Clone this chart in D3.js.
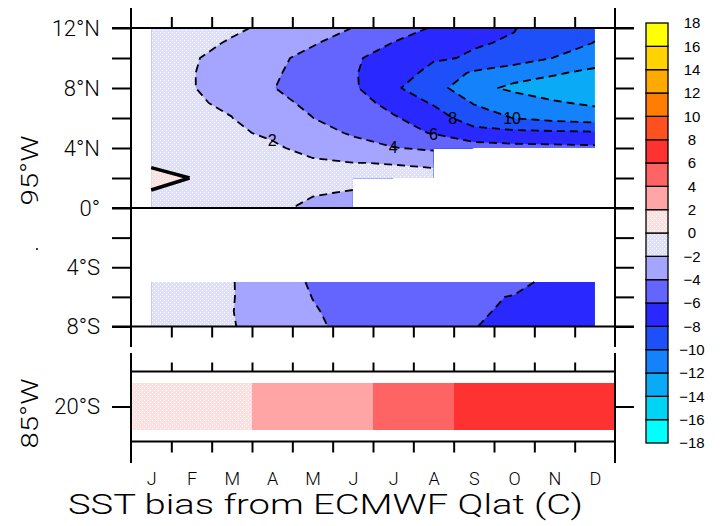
<!DOCTYPE html>
<html>
<head>
<meta charset="utf-8">
<script src="https://cdn.jsdelivr.net/npm/d3@7"></script>
<style>
  body { margin: 0; background: #fff; }
  svg { display: block; }
  text { font-family: "Liberation Sans", Arial, sans-serif; fill: #000; }
  .thin, .thin text { font-family: Roboto, "Liberation Sans", sans-serif; font-weight: 300; }
</style>
</head>
<body>
<svg id="chart" width="720" height="526"></svg>
<script>
// ---- data -------------------------------------------------------------
const months = ["J", "F", "M", "A", "M", "J", "J", "A", "S", "O", "N", "D"];

// 95W, 0-12N: one row per latitude (southernmost first), one value per month; null = no data
const northLats = [0, 1, 2, 3, 4, 5, 6, 7, 8, 9, 10, 11, 12];
const northBias = [
  [-0.5, -0.8, -1.2, -1.7, -2.3, -2.6, null, null, null, null, null, null],
  [-0.25, -0.6, -1.0, -1.5, -1.9, -2.1, null, null, null, null, null, null],
  [1.0, -0.05, -0.6, -1.1, -1.4, -1.6, -1.6, -1.7, null, null, null, null],
  [-0.45, -1.0, -1.3, -1.6, -1.8, -1.97, -2.05, -2.15, null, null, null, null],
  [-0.7, -1.2, -1.6, -1.8, -2.4, -3.3, -3.9, -4.4, -5.2, -5.4, -5.5, -5.6],
  [-0.9, -1.4, -1.8, -2.2, -3.3, -4.2, -5.4, -6.1, -7.2, -7.5, -7.6, -7.7],
  [-1.1, -1.6, -1.98, -2.9, -3.98, -5.0, -5.8, -7.0, -9.1, -10.05, -10.6, -11.0],
  [-1.3, -1.85, -2.2, -3.6, -4.3, -5.2, -6.6, -8.2, -10.1, -11.0, -11.8, -12.3],
  [-1.5, -1.94, -2.5, -3.95, -4.6, -5.7, -7.7, -9.2, -11.4, -12.4, -13.0, -13.5],
  [-1.5, -1.93, -2.6, -3.8, -4.6, -5.85, -7.0, -8.6, -10.3, -11.2, -11.8, -12.5],
  [-1.4, -1.92, -2.3, -3.6, -4.5, -5.7, -6.9, -7.8, -8.15, -9.0, -10.05, -11.0],
  [-1.2, -1.85, -2.05, -3.0, -3.85, -4.8, -6.05, -7.0, -7.9, -8.12, -9.2, -10.05],
  [-1.0, -1.5, -1.92, -2.1, -3.4, -4.02, -5.1, -6.15, -7.1, -7.95, -8.7, -9.6]
];

// 95W, 8S-5S
const southLats = [-8, -7, -6, -5];
const southBias = [
  [-1.0, -1.5, -1.95, -2.4, -3.7, -4.5, -5.0, -5.4, -5.95, -6.45, -6.9, -7.3],
  [-1.0, -1.5, -1.95, -3.0, -3.9, -4.4, -4.9, -5.4, -5.8, -6.25, -6.7, -7.0],
  [-1.0, -1.5, -1.9, -3.2, -4.02, -4.7, -5.1, -5.5, -5.9, -6.03, -6.5, -6.8],
  [-1.0, -1.5, -1.9, -3.3, -4.15, -4.6, -5.0, -5.3, -5.5, -5.8, -6.2, -6.5]
];

// 85W, 20S
const bias20S = [1.3, 1.5, 1.8, 2.5, 3.0, 3.6, 4.5, 5.3, 6.4, 6.9, 7.2, 7.0];

// shading levels and their colours (lowest band first)
const levels = d3.range(-18, 19, 2);
const bandColors = [
  "#00ffff", "#00d4f4", "#0aaaf6", "#1482fa", "#1e50fa", "#2828ff",
  "#6464ff", "#a5a5ff", "#e1e1ff", "#ffe1e1", "#ffa5a5", "#ff6464",
  "#ff3232", "#ff5020", "#ff7d00", "#ffaa00", "#ffd200", "#ffff00"
];
const dottedBands = { 8: "#dedeff", 9: "#ffdede" };

const northTickLats = [0, 2, 4, 6, 8, 10, 12];
const southTickLats = [-8, -6, -4, -2];
const contourLabels = [
  { level: -2, month: 2.8 },
  { level: -4, month: 5.6 },
  { level: -6, month: 7.35 },
  { level: -8, month: 7.5 },
  { level: -10, month: 8.5 }
];

// ---- scales -----------------------------------------------------------
const svg = d3.select("#chart");
const defs = svg.append("defs");

const xMonth = d3.scaleLinear().domain([0, 12]).range([131, 615]);
const yNorth = d3.scaleLinear().domain([0, 12]).range([208, 28]);
const ySouth = d3.scaleLinear().domain([-8, 0]).range([326.5, 208]);
const yBand = d3.scaleLinear().domain([-21.5, -18.5]).range([441.5, 371.5]);
const legendY = d3.scaleLinear().domain([18, -18]).range([23, 443]);

// dithered light fills
Object.entries(dottedBands).forEach(([k, base]) => {
  const p = defs.append("pattern").attr("id", "dot" + k)
    .attr("width", 4).attr("height", 4).attr("patternUnits", "userSpaceOnUse");
  p.append("rect").attr("width", 4).attr("height", 4).attr("fill", base);
  p.append("rect").attr("x", 0).attr("y", 0).attr("width", 1).attr("height", 1).attr("fill", "#fff");
  p.append("rect").attr("x", 2).attr("y", 2).attr("width", 1).attr("height", 1).attr("fill", "#fff");
});
const bandFill = k => dottedBands[k] ? `url(#dot${k})` : bandColors[k];
const bandIndex = v => Math.max(0, Math.min(bandColors.length - 1, Math.floor((v - levels[0]) / 2)));

// ---- contour field ----------------------------------------------------
const linePoints = {};

function drawField(grid, lats, yScale, id, keepPoints) {
  const ny = grid.length, nx = grid[0].length;
  const flat = grid.flat().map(v => v == null ? NaN : +v);
  const val = (i, j) => (i < 0 || j < 0 || i >= nx || j >= ny) ? NaN : flat[j * nx + i];
  const X = s => xMonth(s + 0.5);
  const Y = r => {
    const j = Math.max(0, Math.min(Math.floor(r), ny - 2));
    return yScale(lats[j] + (r - j) * (lats[j + 1] - lats[j]));
  };

  // shade only grid boxes whose four corners hold data
  const clip = defs.append("clipPath").attr("id", id);
  for (let j = 0; j < ny - 1; j++) {
    let start = null;
    for (let i = 0; i <= nx - 1; i++) {
      const ok = i < nx - 1 && [val(i, j), val(i + 1, j), val(i, j + 1), val(i + 1, j + 1)].every(isFinite);
      if (ok && start === null) start = i;
      if (!ok && start !== null) {
        clip.append("rect")
          .attr("x", X(start)).attr("width", X(i) - X(start))
          .attr("y", yScale(lats[j + 1]) - 0.5)
          .attr("height", yScale(lats[j]) - yScale(lats[j + 1]) + 1);
        start = null;
      }
    }
  }

  const gen = d3.contours().size([nx, ny]).smooth(false);
  const fillG = svg.append("g").attr("clip-path", `url(#${id})`);
  const lines = [];

  levels.slice(0, -1).forEach((t, k) => {
    const mp = gen.thresholds([t])(flat)[0];
    if (!mp.coordinates.length) return;
    const polys = mp.coordinates.map(poly => poly.map(ring => ring.map(([px, py]) => {
      let s, r, ok;
      if (Number.isInteger(px)) {
        const j = py - 0.5, a = val(px - 1, j), b = val(px, j);
        r = j;
        if (isFinite(a) && isFinite(b)) { s = px - 1 + (t - a) / (b - a); ok = true; }
        else { s = isFinite(a) ? px - 1 : px; ok = false; }
      } else {
        const i = px - 0.5, a = val(i, py - 1), b = val(i, py);
        s = i;
        if (isFinite(a) && isFinite(b)) { r = py - 1 + (t - a) / (b - a); ok = true; }
        else { r = isFinite(a) ? py - 1 : py; ok = false; }
      }
      return { x: X(s), y: Y(r), ok };
    })));

    const d = polys.map(poly => poly.map(ring =>
      "M" + ring.map(p => p.x + "," + p.y).join("L") + "Z").join("")).join("");
    fillG.append("path").attr("d", d).attr("fill", bandFill(k)).attr("fill-rule", "evenodd");

    // contour lines: only where the level really crosses between two data points
    let path = "";
    const pts = [];
    polys.forEach(poly => poly.forEach(ring => {
      let run = [];
      const flush = () => { if (run.length > 1) path += "M" + run.map(p => p.x + "," + p.y).join("L"); run = []; };
      for (let n = 0; n < ring.length; n++) {
        const p = ring[n];
        if (p.ok) { run.push(p); pts.push(p); } else flush();
      }
      flush();
    }));
    if (path) lines.push({ t, path });
    if (keepPoints) linePoints[t] = pts;
  });

  const lineG = svg.append("g").attr("fill", "none").attr("stroke", "#000");
  lines.forEach(({ t, path }) => {
    lineG.append("path").attr("d", path)
      .attr("stroke-width", t === 0 ? 3.5 : 1.8)
      .attr("stroke-dasharray", t < 0 ? "8,5" : null)
      .attr("stroke-linejoin", "round");
  });
}

drawField(northBias, northLats, yNorth, "maskNorth", true);
drawField(southBias, southLats, ySouth, "maskSouth", false);

// contour labels on the lower arm of each line
const labelG = svg.append("g").attr("font-size", 16).attr("text-anchor", "middle");
contourLabels.forEach(({ level, month }) => {
  const pts = (linePoints[level] || []).filter(p => p.y > yNorth(8));
  if (!pts.length) return;
  const tx = xMonth(month + 0.5);
  const p = pts.reduce((a, b) => Math.abs(b.x - tx) < Math.abs(a.x - tx) ? b : a);
  labelG.append("text").attr("x", p.x).attr("y", p.y).attr("dy", "0.36em").text(Math.abs(level));
});

// 85W 20S strip, one block per month
svg.append("g").attr("shape-rendering", "crispEdges")
  .selectAll("rect").data(bias20S).join("rect")
  .attr("x", (d, i) => Math.round(xMonth(i)))
  .attr("width", (d, i) => Math.round(xMonth(i + 1)) - Math.round(xMonth(i)))
  .attr("y", yBand(-19))
  .attr("height", yBand(-21) - yBand(-19))
  .attr("fill", d => bandFill(bandIndex(d)));

// ---- frame and axes ---------------------------------------------------
const frame = svg.append("g").attr("stroke", "#000").attr("stroke-width", 2).attr("fill", "none");
[[131, 8, 131, 347], [615, 8, 615, 347], [131, 353, 131, 463], [615, 353, 615, 463]]
  .forEach(([x1, y1, x2, y2]) => frame.append("line").attr("x1", x1).attr("y1", y1).attr("x2", x2).attr("y2", y2));
[[yNorth(12), 112, 634], [yNorth(0), 112, 634], [ySouth(-8), 112, 634], [yBand(-18.5), 131, 615], [yBand(-21.5), 131, 615]]
  .forEach(([y, x1, x2]) => frame.append("line").attr("x1", x1).attr("x2", x2).attr("y1", y).attr("y2", y));

function styleAxis(g, size) {
  g.select(".domain").remove();
  g.selectAll("line").attr("stroke-width", 2);
  g.attr("font-family", null).attr("font-size", size).attr("class", "thin");
}

const northLabel = v => v === 0 ? "0°" : (v % 4 === 0 ? v + "°N" : "");
const southLabel = v => v % 4 === 0 ? (-v) + "°S" : "";

svg.append("g").attr("transform", "translate(131,0)")
  .call(d3.axisLeft(yNorth).tickValues(northTickLats).tickSize(19).tickPadding(12).tickFormat(northLabel))
  .call(g => styleAxis(g, 22));
svg.append("g").attr("transform", "translate(131,0)")
  .call(d3.axisLeft(ySouth).tickValues(southTickLats).tickSize(19).tickPadding(12).tickFormat(southLabel))
  .call(g => styleAxis(g, 22));
svg.append("g").attr("transform", "translate(131,0)")
  .call(d3.axisLeft(yBand).tickValues([-20]).tickSize(19).tickPadding(12).tickFormat(v => (-v) + "°S"))
  .call(g => styleAxis(g, 22));

svg.append("g").attr("transform", "translate(615,0)")
  .call(d3.axisRight(yNorth).tickValues(northTickLats).tickSize(19).tickFormat(""))
  .call(g => styleAxis(g, 10));
svg.append("g").attr("transform", "translate(615,0)")
  .call(d3.axisRight(ySouth).tickValues(southTickLats).tickSize(19).tickFormat(""))
  .call(g => styleAxis(g, 10));
svg.append("g").attr("transform", "translate(615,0)")
  .call(d3.axisRight(yBand).tickValues([-20]).tickSize(19).tickFormat(""))
  .call(g => styleAxis(g, 10));

const monthEdges = d3.range(1, 12);
svg.append("g").attr("transform", `translate(0,${yNorth(12)})`)
  .call(d3.axisTop(xMonth).tickValues(monthEdges).tickSize(11).tickFormat(""))
  .call(g => styleAxis(g, 10));
svg.append("g").attr("transform", `translate(0,${ySouth(-8)})`)
  .call(d3.axisBottom(xMonth).tickValues(monthEdges).tickSize(11).tickFormat(""))
  .call(g => styleAxis(g, 10));
svg.append("g").attr("transform", `translate(0,${yBand(-18.5)})`)
  .call(d3.axisTop(xMonth).tickValues(monthEdges).tickSize(9).tickFormat(""))
  .call(g => styleAxis(g, 10));
svg.append("g").attr("transform", `translate(0,${yBand(-21.5)})`)
  .call(d3.axisBottom(xMonth).tickValues(monthEdges).tickSize(11).tickFormat(""))
  .call(g => styleAxis(g, 10));

// month names centred on each month
svg.append("g").attr("transform", `translate(0,${yBand(-21.5)})`)
  .call(d3.axisBottom(xMonth).tickValues(d3.range(12).map(i => i + 0.5)).tickSize(0).tickPadding(31)
    .tickFormat((d, i) => months[i]))
  .call(g => styleAxis(g, 18));

// longitude captions
svg.append("text").attr("class", "thin").attr("transform", `translate(38,${yNorth(2.5)}) rotate(-90)`)
  .attr("text-anchor", "middle").attr("font-size", 24)
  .attr("textLength", 70).attr("lengthAdjust", "spacingAndGlyphs").text("95°W");
svg.append("text").attr("class", "thin").attr("transform", `translate(38,${yBand(-20.3)}) rotate(-90)`)
  .attr("text-anchor", "middle").attr("font-size", 24)
  .attr("textLength", 70).attr("lengthAdjust", "spacingAndGlyphs").text("85°W");
svg.append("circle").attr("cx", 37).attr("cy", 249).attr("r", 1).attr("fill", "#000");

// title
svg.append("text").attr("class", "thin").attr("x", 68).attr("y", 514).attr("font-size", 27)
  .attr("textLength", 515).attr("lengthAdjust", "spacingAndGlyphs")
  .text("SST bias from ECMWF Qlat (C)");

// ---- colour key -------------------------------------------------------
const key = svg.append("g");
key.selectAll("rect").data(bandColors).join("rect")
  .attr("x", 646).attr("width", 22)
  .attr("y", (d, k) => legendY(levels[k + 1]))
  .attr("height", (d, k) => legendY(levels[k]) - legendY(levels[k + 1]))
  .attr("fill", (d, k) => bandFill(k))
  .attr("stroke", "#000").attr("stroke-width", 1.3);
key.selectAll("text").data(levels).join("text")
  .attr("x", 692).attr("y", d => legendY(d)).attr("dy", "0.36em")
  .attr("text-anchor", "middle").attr("font-size", 15)
  .text(d => d < 0 ? "\u2212" + (-d) : String(d));
</script>
</body>
</html>
